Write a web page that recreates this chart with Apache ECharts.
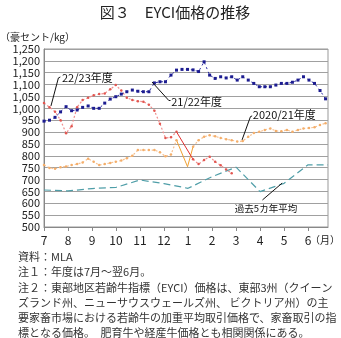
<!DOCTYPE html>
<html>
<head>
<meta charset="utf-8">
<script src="https://cdn.jsdelivr.net/npm/echarts@6/dist/echarts.min.js"></script>
<style>
  html, body { margin: 0; padding: 0; background: #fff; }
  #chart { width: 341px; height: 338px; }
</style>
</head>
<body>
<div id="chart"></div>
<script>
// Month tick labels (fiscal year July -> June)
const monthLabels = ['7', '8', '9', '10', '11', '12', '1', '2', '3', '4', '5', '6'];

// Weekly EYCI prices (AU cents/kg), one value per week from early July; null = no sales
const fy2122 = [946, 950, 962, 985, 1007, 990, 993, 1004, 1010, 1000, 1000, 1022, 1039, 1049,
  1060, 1070, 1077, 1072, 1070, 1070, 1107, 1112, 1112, 1140, 1161, 1164, 1164, 1162, 1155,
  1196, 1140, 1126, 1133, 1128, 1133, 1119, 1133, 1119, 1105, 1091, 1091, 1091, 1098, 1105,
  1105, 1110, 1119, 1133, 1119, 1105, 1075, 1040];

const fy2223 = [1022, 1005, 986, 950, 895, 925, 1005, 1035, 1045, 1055, 1060, 1063, 1080, 1098,
  1075, 1045, 1035, 1030, 1028, 1015, 990, 935, 875, 878, 901, null, null, 785, 765, 782, 796,
  775, 760, 742, 727];

const fy2021 = [761, 749, 745, 752, 755, 761, 765, 772, 788, 775, 761, 765, 770, 775, 780, 790,
  800, 824, 824, 824, 824, 815, 798, 805, 866, null, null, 838, 866, 880, 887, 882, 875, 870,
  866, 860, 862, 880, 896, 901, 909, 915, 905, 903, 909, 901, 909, 915, 917, 920, 930, 937];

// Christmas-break gaps, joined with a solid segment: [week, value]
const fy2223Break = [[24, 901], [27, 785]];
const fy2021Break = [[24, 866], [26, 754], [27, 838]];

// Five-year average, monthly (month offset from July, value)
const avgMonths = [0, 1, 2, 3, 4, 5, 6, 7, 8, 9, 10, 11, 11.83];
const avg5yr = [656, 652, 662, 667, 698, 683, 663, 712, 752, 649, 684, 762, 762];

const WEEK = 7 / 30.44; // one week expressed in months
const weekly = arr => arr.map((v, i) => [i * WEEK, v]);
const byWeek = arr => arr.map(p => [p[0] * WEEK, p[1]]);

const FONT = '"Noto Sans CJK JP", "Noto Sans", sans-serif';
const chart = echarts.init(document.getElementById('chart'), null, { renderer: 'canvas' });

chart.setOption({
  animation: false,
  backgroundColor: '#fff',
  grid: { left: 44, right: 13, top: 49, bottom: 111, show: true, borderColor: '#999', borderWidth: 1 },
  xAxis: {
    type: 'value', min: 0, max: 11.83, interval: 1,
    axisLine: { lineStyle: { color: '#888' } },
    axisTick: { show: true, length: 4, lineStyle: { color: '#888' }, customValues: [0,1,2,3,4,5,6,7,8,9,10,11] },
    axisLabel: { customValues: [0,1,2,3,4,5,6,7,8,9,10,11], formatter: v => monthLabels[Math.round(v)] || '',
      color: '#222', fontSize: 12, fontFamily: FONT, margin: 7 },
    splitLine: { show: false }
  },
  yAxis: {
    type: 'value', min: 500, max: 1250, interval: 50,
    axisLine: { show: true, lineStyle: { color: '#888' } },
    axisTick: { show: false },
    axisLabel: { formatter: v => v.toLocaleString('en-US'), color: '#222', fontSize: 11, fontFamily: FONT, margin: 4 },
    splitLine: { lineStyle: { color: '#a0a0a0', width: 1 } }
  },
  series: [
    { name: '過去5カ年平均', type: 'line', data: avgMonths.map((m, i) => [m, avg5yr[i]]),
      showSymbol: false, lineStyle: { color: '#4f9ea8', width: 1.2, type: [7, 4] } },
    { name: '2020/21年度', type: 'line', data: weekly(fy2021), connectNulls: false,
      symbol: 'circle', symbolSize: 2.5, showAllSymbol: true,
      itemStyle: { color: '#f4ae6a' }, lineStyle: { color: '#f6c090', width: 1.2, type: [2, 2] } },
    { name: '2020/21年度 break', type: 'line', data: byWeek(fy2021Break), showSymbol: false,
      lineStyle: { color: '#f0a030', width: 1 } },
    { name: '22/23年度', type: 'line', data: weekly(fy2223), connectNulls: false,
      symbol: 'circle', symbolSize: 2.5, showAllSymbol: true,
      itemStyle: { color: '#e25650' }, lineStyle: { color: '#f09090', width: 1.2, type: [2, 2] } },
    { name: '22/23年度 break', type: 'line', data: byWeek(fy2223Break), showSymbol: false,
      lineStyle: { color: '#e03030', width: 1 } },
    { name: '21/22年度', type: 'line', data: weekly(fy2122),
      symbol: 'rect', symbolSize: 3, showAllSymbol: true,
      itemStyle: { color: '#1c1c90' }, lineStyle: { color: '#2a2aa0', width: 1, type: [2, 3] } }
  ]
});

// Series call-outs, anchored in data coordinates: text position, leader-line path
const callouts = [
  { text: '22/23年度', at: [0.75, 1128], size: 11, path: [[0.29, 1010], [0.6, 1128], [0.68, 1132]] },
  { text: '21/22年度', at: [5.3, 1027], size: 11, path: [[4.5, 1111], [5.2, 1033], [5.27, 1033]] },
  { text: '2020/21年度', at: [8.7, 972], size: 11, path: [[8.25, 867], [8.6, 965], [8.67, 968]] },
  { text: '過去5カ年平均', at: [7.95, 580], size: 9.5, path: [[9.1, 614], [9.92, 685]] }
];
const px = p => chart.convertToPixel({ gridIndex: 0 }, p);
const graphics = [];
callouts.forEach(c => {
  const t = px(c.at);
  graphics.push({ type: 'text', x: t[0], y: t[1], style: { text: c.text, fill: '#111',
    font: c.size + 'px ' + FONT, textVerticalAlign: 'middle' }, z: 10 });
  graphics.push({ type: 'polyline', shape: { points: c.path.map(px) },
    style: { stroke: '#111', lineWidth: 1, fill: null }, z: 10 });
});

// Title, axis captions and notes
graphics.push(
  { type: 'text', x: 175, y: 12, style: { text: '図３　EYCI価格の推移', fill: '#222',
    font: '15px ' + FONT, textAlign: 'center', textVerticalAlign: 'middle' } },
  { type: 'text', x: 0, y: 37, style: { text: '（豪セント/kg）', fill: '#222',
    font: '10px ' + FONT, textVerticalAlign: 'middle' } },
  { type: 'text', x: 340, y: 240, style: { text: '（月）', fill: '#222',
    font: '10px ' + FONT, textAlign: 'right', textVerticalAlign: 'middle' } }
);
const notes = [
  '資料：MLA',
  '注１：年度は7月～翌6月。',
  '注２：東部地区若齢牛指標（EYCI）価格は、東部3州（クイーン',
  'ズランド州、ニューサウスウェールズ州、 ビクトリア州）の主',
  '要家畜市場における若齢牛の加重平均取引価格で、家畜取引の指',
  '標となる価格。　肥育牛や経産牛価格とも相関関係にある。'
];
notes.forEach((line, i) => {
  graphics.push({ type: 'text', x: 18, y: 257 + i * 15.2, style: { text: line, fill: '#333',
    font: '11px ' + FONT, textVerticalAlign: 'middle' } });
});
chart.setOption({ graphic: graphics });
</script>
</body>
</html>
